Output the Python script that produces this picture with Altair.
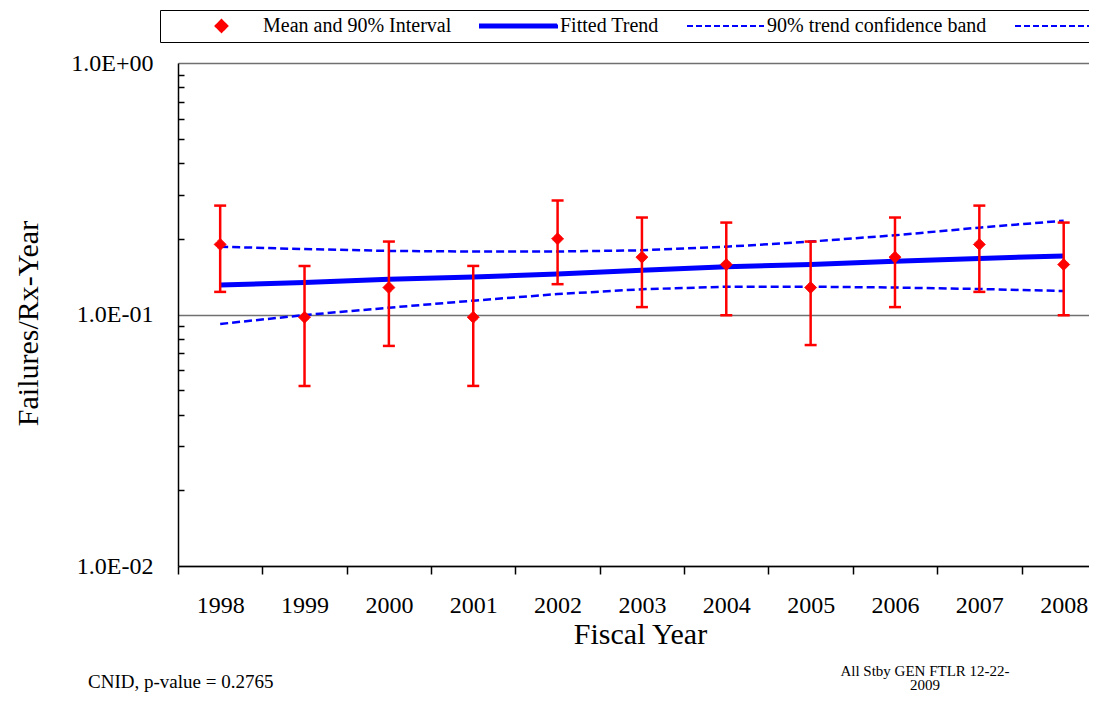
import pandas as pd
import altair as alt

# values
years = [1998, 1999, 2000, 2001, 2002, 2003, 2004, 2005, 2006, 2007, 2008]
mean_rate = [0.190, 0.0975, 0.128, 0.0975, 0.200, 0.169, 0.158, 0.128, 0.169, 0.190, 0.158]
lower_90 = [0.123, 0.052, 0.075, 0.052, 0.132, 0.107, 0.0993, 0.0756, 0.107, 0.123, 0.0993]
upper_90 = [0.271, 0.156, 0.195, 0.156, 0.284, 0.243, 0.232, 0.195, 0.243, 0.271, 0.232]
fitted_trend = [0.131, 0.134, 0.138, 0.141, 0.145, 0.150, 0.155, 0.158, 0.163, 0.167, 0.171]
band_upper = [0.186, 0.182, 0.179, 0.178, 0.178, 0.180, 0.186, 0.195, 0.2065, 0.2215, 0.236]
band_lower = [0.0917, 0.0995, 0.1064, 0.1135, 0.1206, 0.126, 0.129, 0.129, 0.128, 0.1263, 0.124]

series_names = ['Mean and 90% Interval', 'Fitted Trend', '90% trend confidence band', 'lower band']

y_tick_values = [0.01, 0.1, 1.0]
y_tick_labels = ['1.0E-02', '1.0E-01', '1.0E+00']
y_minor_ticks = [0.02, 0.03, 0.04, 0.05, 0.06, 0.07, 0.08, 0.09,
                 0.2, 0.3, 0.4, 0.5, 0.6, 0.7, 0.8, 0.9]
x_tick_marks = [1997.5, 1998.5, 1999.5, 2000.5, 2001.5, 2002.5,
                2003.5, 2004.5, 2005.5, 2006.5, 2007.5]

notes = ['CNID, p-value = 0.2765']
stamp = ['All Stby GEN FTLR 12-22-\n2009']

#%% data frames
pts = pd.DataFrame({'year': years, 'mean': mean_rate, 'lo': lower_90, 'hi': upper_90,
                    'series': series_names[0]})
trend_df = pd.DataFrame({'year': years, 'rate': fitted_trend})
band_df = pd.concat([pd.DataFrame({'year': years, 'rate': band_upper, 'band': 'upper'}),
                     pd.DataFrame({'year': years, 'rate': band_lower, 'band': 'lower'})])
notes_df = pd.DataFrame({'note': notes})
stamp_df = pd.DataFrame({'note': stamp})

red = '#FF0000'
blue = '#0000FF'
serif = 'Liberation Serif'

#%% scales and axes
x_scale = alt.Scale(domain=[1997.5, 2008.3], nice=False, zero=False)
y_scale = alt.Scale(type='log', domain=[0.01, 1], nice=False)

x_axis = alt.Axis(values=x_tick_marks + years,
                  labelExpr="datum.value % 1 == 0 ? '' + datum.value : ''",
                  tickColor={'condition': {'test': 'datum.value % 1 != 0', 'value': 'black'},
                             'value': 'transparent'},
                  tickSize=8, tickWidth=1.5, domainColor='black', domainWidth=1.5,
                  grid=False, labelFontSize=24, labelBaseline='middle', labelPadding=31,
                  labelOverlap=False, labelFlush=False, labelColor='black',
                  title='Fiscal Year', titleFontSize=30, titleFontWeight='normal',
                  titleColor='black', titleX=462, titleY=68, titleBaseline='middle')
x_enc = alt.X('year:Q', scale=x_scale, axis=x_axis)

y_label_expr = ' : '.join("abs(datum.value - %g) < 1e-9 ? '%s'" % (v, l)
                          for v, l in zip(y_tick_values, y_tick_labels)) + " : ''"
y_major = alt.Axis(orient='left', values=y_tick_values, labelExpr=y_label_expr,
                   ticks=False, tickSize=0, labelPadding=25, labelFontSize=24,
                   labelColor='black', labelOverlap=False,
                   grid=True, gridColor='#707070', gridWidth=1.5,
                   domainColor='black', domainWidth=1.5,
                   title='Failures/Rx-Year', titleFontSize=30, titleFontWeight='normal',
                   titleColor='black', titleX=-150, titleY=260, titleBaseline='middle')
# minor ticks pointing into the plot
y_minor = alt.Axis(orient='left', values=y_minor_ticks, offset=-6, tickSize=6,
                   tickWidth=1.5, tickColor='black', labels=False, domain=False,
                   grid=False, title='')

#%% legend (built from the point layer's scales)
diamond_path = 'M0,-0.155L0.155,0L0,0.155L-0.155,0Z'
rect_path = 'M-1,-0.04H1V0.04H-1Z'
line_path = 'M-1,0H1'

color_scale = alt.Scale(domain=series_names, range=[red, blue, blue, blue])
shape_scale = alt.Scale(domain=series_names, range=[diamond_path, rect_path, line_path, line_path])
dash_scale = alt.Scale(domain=series_names, range=[[1, 0], [1, 0], [6, 3], [6, 3]])

legend = alt.Legend(title='\u00a0', titleOrient='left', titlePadding=17, titleFontSize=20,
                    orient='none', legendX=-18, legendY=-53, direction='horizontal',
                    columns=4, columnPadding=27, padding=5, strokeColor='black',
                    fillColor='white', clipHeight=22, symbolSize=5929, symbolStrokeWidth=2,
                    labelFont=serif, labelFontSize=20, labelOffset=2, labelLimit=400,
                    labelColor='black',
                    labelExpr="datum.label == 'lower band' ? '' : datum.label")

#%% layers
bands = alt.Chart(band_df).mark_line(color=blue, strokeWidth=2.5, strokeDash=[8, 4]).encode(
    x=x_enc,
    y=alt.Y('rate:Q', scale=y_scale, axis=y_minor),
    detail='band:N'
)

fitted = alt.Chart(trend_df).mark_line(color=blue, strokeWidth=5).encode(
    x=x_enc,
    y=alt.Y('rate:Q', scale=y_scale, axis=y_major)
)

rules = alt.Chart(pts).mark_rule(color=red, strokeWidth=2.5).encode(
    x=x_enc,
    y=alt.Y('lo:Q', scale=y_scale, axis=None),
    y2='hi:Q'
)

caps_lo = alt.Chart(pts).mark_tick(color=red, orient='horizontal', size=12, thickness=2.5,
                                   opacity=1).encode(
    x=x_enc,
    y=alt.Y('lo:Q', scale=y_scale, axis=None)
)

caps_hi = alt.Chart(pts).mark_tick(color=red, orient='horizontal', size=12, thickness=2.5,
                                   opacity=1).encode(
    x=x_enc,
    y=alt.Y('hi:Q', scale=y_scale, axis=None)
)

points = alt.Chart(pts).mark_point(filled=True, size=5929, opacity=1, strokeWidth=1).encode(
    x=x_enc,
    y=alt.Y('mean:Q', scale=y_scale, axis=None),
    fill=alt.Fill('series:N', scale=color_scale, legend=legend),
    stroke=alt.Stroke('series:N', scale=color_scale, legend=legend),
    shape=alt.Shape('series:N', scale=shape_scale, legend=legend),
    strokeDash=alt.StrokeDash('series:N', scale=dash_scale, legend=legend)
)

note_text = alt.Chart(notes_df).mark_text(align='left', baseline='middle', fontSize=19,
                                          font=serif, color='black').encode(
    x=alt.value(-90), y=alt.value(619), text='note:N'
)

stamp_text = alt.Chart(stamp_df).mark_text(align='center', baseline='top', fontSize=15,
                                           font=serif, color='black', lineBreak='\n',
                                           lineHeight=14).encode(
    x=alt.value(747), y=alt.value(601), text='note:N'
)

# svg kept at 1081 px wide so the page does not shrink it
chart = alt.layer(bands, fitted, rules, caps_lo, caps_hi, points, note_text, stamp_text)
chart = chart.resolve_axis(y='independent').properties(
    width=911, height=503,
    autosize=alt.AutoSizeParams(type='none'),
    padding={'left': 170, 'top': 55, 'right': 0, 'bottom': 128}
).configure(font=serif).configure_view(stroke='transparent')

chart.save("out.html", embed_options={"renderer": "svg", "actions": False})
